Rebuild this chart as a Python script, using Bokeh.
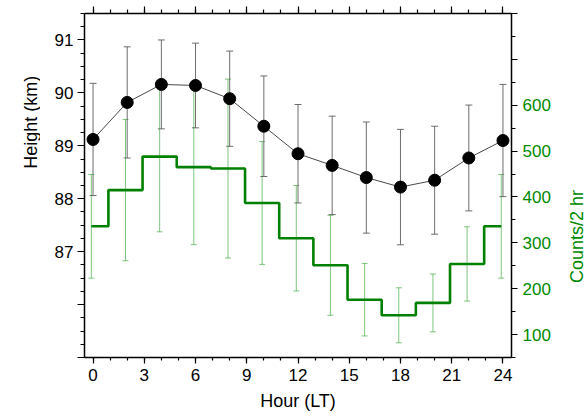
from math import pi
from bokeh.plotting import figure
from bokeh.layouts import row
from bokeh.models import (Range1d, LinearAxis, FixedTicker, Whisker, TeeHead,
                          ColumnDataSource, Label)
from bokeh.embed import file_html
from bokeh.resources import INLINE

# ---- data ----
hours = [0, 2, 4, 6, 8, 10, 12, 14, 16, 18, 20, 22, 24]
height_km = [89.12, 89.82, 90.16, 90.14, 89.89, 89.37, 88.85, 88.63, 88.40, 88.22, 88.35, 88.77, 89.10]
height_err = [1.06, 1.05, 0.84, 0.80, 0.90, 0.95, 0.93, 0.93, 1.05, 1.09, 1.02, 1.00, 1.06]
counts = [336, 415, 488, 465, 462, 387, 310, 251, 176, 142, 169, 254, 336]
counts_err = [113, 154, 164, 169, 195, 134, 115, 109, 79, 60, 63, 81, 113]

x_major = [0, 3, 6, 9, 12, 15, 18, 21, 24]
x_minor = list(range(0, 25))
h_major = [85, 86, 87, 88, 89, 90, 91]
h_minor = [85 + 0.25 * k for k in range(27)]
c_major = [100, 200, 300, 400, 500, 600, 700, 800]
c_minor = [50 + 50 * k for k in range(16)]

FONT = "Liberation Sans"
GREEN = "#008a00"
green_shift = -0.1

W, H = 586, 418
LEFT_W, RIGHT_W = 40, 30
MAIN_W = W - LEFT_W - RIGHT_W
B_TOP, B_BOTTOM = 13, 61
FRAME_H = H - B_TOP - B_BOTTOM

p = figure(width=MAIN_W, height=H, output_backend="svg", toolbar_location=None,
           x_range=Range1d(-0.5, 24.5), y_range=Range1d(85, 91.5),
           min_border_left=44, min_border_right=45, min_border_top=B_TOP,
           min_border_bottom=B_BOTTOM)
p.extra_y_ranges = {"counts": Range1d(50, 800)}
p.xgrid.visible = False
p.ygrid.visible = False
p.outline_line_color = None
p.background_fill_color = "white"
p.border_fill_color = "white"


def style(ax, ticks, minor, out=7, minor_out=4, size="17px", color="black"):
    ax.ticker = FixedTicker(ticks=ticks, minor_ticks=minor)
    ax.axis_line_width = 1.5
    ax.axis_line_color = "black"
    ax.major_tick_line_color = "black"
    ax.minor_tick_line_color = "black"
    ax.major_tick_line_width = 1.2
    ax.minor_tick_line_width = 1.2
    ax.major_tick_in = 0
    ax.minor_tick_in = 0
    ax.major_tick_out = out
    ax.minor_tick_out = minor_out
    ax.major_label_text_font = FONT
    ax.major_label_text_font_size = size
    ax.major_label_text_color = color


xb = p.xaxis[0]
style(xb, x_major, x_minor, out=6, minor_out=3)
xb.major_label_standoff = 5
xb.axis_label = "Hour (LT)"
xb.axis_label_text_font = FONT
xb.axis_label_text_font_size = "18px"
xb.axis_label_text_font_style = "normal"
xb.axis_label_text_color = "black"
xb.axis_label_standoff = 7

yl = p.yaxis[0]
style(yl, h_major, h_minor, out=7, minor_out=4)
yl.major_label_overrides = {85: "", 86: ""}
yl.major_label_standoff = 4

yr = LinearAxis(y_range_name="counts")
style(yr, c_major, c_minor, out=6, minor_out=4, color=GREEN)
yr.major_label_overrides = {700: "", 800: ""}
yr.major_label_standoff = 5
p.add_layout(yr, "right")

xt = LinearAxis()
style(xt, x_major, x_minor, out=7, minor_out=4, size="1px")
xt.major_label_overrides = {t: "" for t in x_major}
xt.major_label_standoff = 0
p.add_layout(xt, "above")

# ---- green counts ----
x_green = [h + green_shift for h in hours]
src_c = ColumnDataSource(dict(x=x_green, y=counts,
                              up=[c + e for c, e in zip(counts, counts_err)],
                              lo=[c - e for c, e in zip(counts, counts_err)]))
gw = Whisker(source=src_c, base="x", upper="up", lower="lo", dimension="height",
             y_range_name="counts", line_color="#3aa83a", line_alpha=0.65, line_width=1,
             upper_head=TeeHead(size=6, line_color="#3aa83a", line_alpha=0.65, line_width=1),
             lower_head=TeeHead(size=6, line_color="#3aa83a", line_alpha=0.65, line_width=1))
p.add_layout(gw)
p.step(x="x", y="y", source=src_c, mode="center", line_color="#008000", line_width=2.6,
       y_range_name="counts")

# ---- black height ----
src_h = ColumnDataSource(dict(x=hours, y=height_km,
                              up=[h + e for h, e in zip(height_km, height_err)],
                              lo=[h - e for h, e in zip(height_km, height_err)]))
bw = Whisker(source=src_h, base="x", upper="up", lower="lo", dimension="height",
             line_color="#555555", line_alpha=0.85, line_width=1,
             upper_head=TeeHead(size=7, line_color="#555555", line_alpha=0.85, line_width=1),
             lower_head=TeeHead(size=7, line_color="#555555", line_alpha=0.85, line_width=1))
p.add_layout(bw)
p.line(x="x", y="y", source=src_h, line_color="#333333", line_width=0.9)
p.scatter(x="x", y="y", source=src_h, size=12, fill_color="black", line_color="black")


# ---- side strips carrying the vertical axis titles (pixel coordinates in strip) ----
def strip(width, text, x_px, y_from_top, color):
    s = figure(width=width, height=H, output_backend="svg", toolbar_location=None,
               x_range=Range1d(0, width), y_range=Range1d(0, FRAME_H),
               x_axis_location=None, y_axis_location=None, min_border_left=0,
               min_border_right=0, min_border_top=B_TOP, min_border_bottom=B_BOTTOM)
    s.outline_line_color = None
    s.grid.visible = False
    s.background_fill_color = "white"
    s.border_fill_color = "white"
    s.add_layout(Label(x=x_px, y=H - B_BOTTOM - y_from_top, text=text, angle=pi / 2,
                       text_align="center", text_baseline="alphabetic",
                       text_font=FONT, text_font_size="18px", text_color=color))
    return s


left = strip(LEFT_W, "Height (km)", 30.7, 121.7, "black")
right = strip(RIGHT_W, "Counts/2 hr", 20.0, 236.0, GREEN)

layout = row(left, p, right, spacing=0)
open("out.html", "w").write(file_html(layout, INLINE))
